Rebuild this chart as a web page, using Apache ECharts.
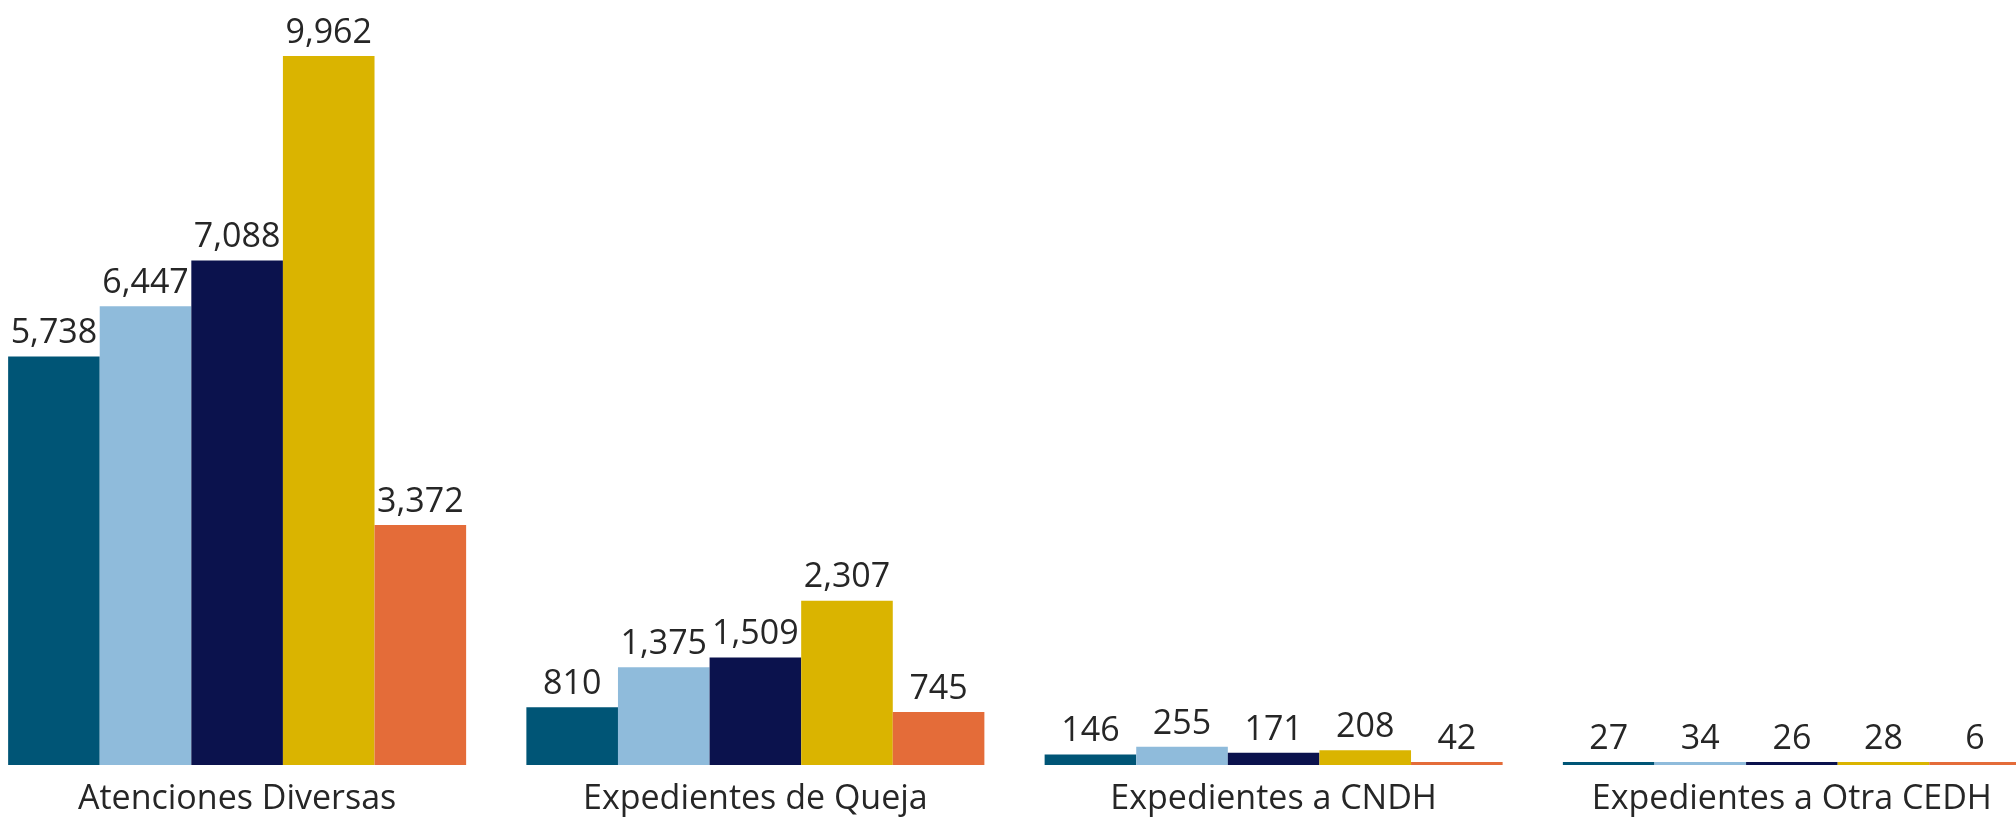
<!DOCTYPE html>
<html>
<head>
<meta charset="utf-8">
<script src="https://cdn.jsdelivr.net/npm/echarts@6/dist/echarts.min.js"></script>
<style>
html,body{margin:0;padding:0;background:#fff;}
#chart{width:2016px;height:817px;}
</style>
</head>
<body>
<div id="chart"></div>
<script>
const categories = ['Atenciones Diversas', 'Expedientes de Queja', 'Expedientes a CNDH', 'Expedientes a Otra CEDH'];
const serie1 = [5738, 810, 146, 27];
const serie2 = [6447, 1375, 255, 34];
const serie3 = [7088, 1509, 171, 26];
const serie4 = [9962, 2307, 208, 28];
const serie5 = [3372, 745, 42, 6];
const seriesNames = ['Serie 1', 'Serie 2', 'Serie 3', 'Serie 4', 'Serie 5'];
const seriesData = [serie1, serie2, serie3, serie4, serie5];
const colors = ['#005576', '#8FBBDB', '#0B124D', '#DAB400', '#E46C39'];

const chart = echarts.init(document.getElementById('chart'));
const fmt = v => v.toLocaleString('en-US');
chart.setOption({
  animation: false,
  backgroundColor: '#ffffff',
  grid: { left: -22, width: 2073, top: 56, bottom: 52, containLabel: false, outerBoundsMode: 'none' },
  xAxis: {
    type: 'category',
    data: categories,
    axisLine: { show: false },
    axisTick: { show: false },
    axisLabel: {
      fontFamily: 'Open Sans',
      fontSize: 34,
      color: '#262626',
      margin: 17,
      interval: 0,
      hideOverlap: false
    }
  },
  yAxis: {
    type: 'value',
    min: 0,
    max: 'dataMax',
    show: false,
    splitLine: { show: false }
  },
  series: seriesData.map((d, i) => ({
    name: seriesNames[i],
    type: 'bar',
    data: d,
    barWidth: 91.6,
    barGap: '0%',
    barMinHeight: 3,
    itemStyle: { color: colors[i] },
    label: {
      show: true,
      position: 'top',
      distance: 6,
      fontFamily: 'Open Sans',
      fontSize: 34,
      color: '#262626',
      formatter: p => fmt(p.value)
    }
  }))
});
</script>
</body>
</html>
